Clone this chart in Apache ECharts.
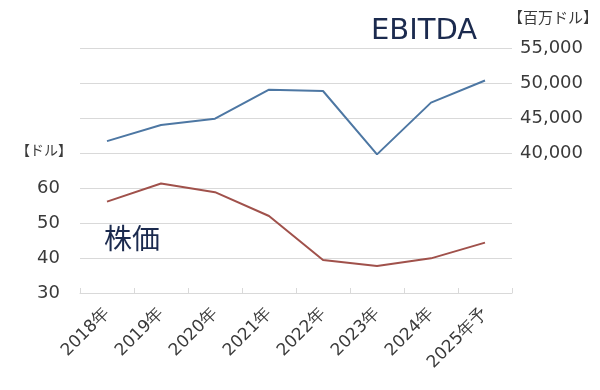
<!DOCTYPE html>
<html>
<head>
<meta charset="utf-8">
<script src="https://cdn.jsdelivr.net/npm/echarts@6/dist/echarts.min.js"></script>
<style>html,body{margin:0;padding:0;background:#fff;}#c{width:600px;height:390px;}</style>
</head>
<body>
<div id="c"></div>
<script>
var categories = ['2018年','2019年','2020年','2021年','2022年','2023年','2024年','2025年予'];
var ebitda = [41700, 44000, 44900, 49050, 48860, 39800, 47200, 50350];
var stockPrice = [56.1, 61.3, 58.8, 52.0, 39.4, 37.7, 39.9, 44.4];
var leftTicks = [30, 40, 50, 60];
var rightTicks = [40000, 45000, 50000, 55000];

var chart = echarts.init(document.getElementById('c'));
var labelColor = '#3a3a3a';
var font = '"DejaVu Sans", Verdana, sans-serif';
chart.setOption({
  animation: false,
  grid: {left: 80, right: 88, top: 48, bottom: 97},
  xAxis: {
    type: 'category',
    data: categories,
    boundaryGap: true,
    axisLine: {lineStyle: {color: '#d9d9d9', width: 1}},
    axisTick: {show: true, inside: true, length: 5, lineStyle: {color: '#d9d9d9'}},
    axisLabel: {rotate: 45, color: labelColor, fontSize: 17, fontFamily: font, margin: 18, interval: 0}
  },
  yAxis: [{
    type: 'value', min: 30, max: 100, interval: 10,
    axisLine: {show: false}, axisTick: {show: false},
    splitLine: {lineStyle: {color: '#d9d9d9', width: 1}},
    axisLabel: {color: labelColor, fontSize: 18, fontFamily: font, margin: 20,
      formatter: function (v) { return leftTicks.indexOf(v) >= 0 ? String(v) : ''; }}
  }, {
    type: 'value', min: 20000, max: 55000, interval: 5000, position: 'right',
    axisLine: {show: false}, axisTick: {show: false}, splitLine: {show: false},
    axisLabel: {color: labelColor, fontSize: 18, fontFamily: font, margin: 8,
      formatter: function (v) { return rightTicks.indexOf(v) >= 0 ? v.toLocaleString('en-US') : ''; }}
  }],
  series: [{
    name: 'EBITDA', type: 'line', yAxisIndex: 1, data: ebitda,
    symbol: 'none', lineStyle: {color: '#4d77a3', width: 2}
  }, {
    name: '株価', type: 'line', yAxisIndex: 0, data: stockPrice,
    symbol: 'none', lineStyle: {color: '#a0514b', width: 2}
  }],
  graphic: [
    {type: 'text', left: 371, top: 17, style: {text: 'EBITDA', font: '29px "DejaVu Sans", sans-serif', fill: '#1b2a4e'}},
    {type: 'text', left: 104, top: 224, style: {text: '株価', font: '28px "Noto Sans CJK JP", sans-serif', fill: '#1b2a4e'}},
    {type: 'text', left: 508, top: 10, style: {text: '【百万ドル】', font: '15px "Noto Sans CJK JP", sans-serif', fill: labelColor}},
    {type: 'text', left: 16, top: 143, style: {text: '【ドル】', font: '14px "Noto Sans CJK JP", sans-serif', fill: labelColor}}
  ]
});
</script>
</body>
</html>
